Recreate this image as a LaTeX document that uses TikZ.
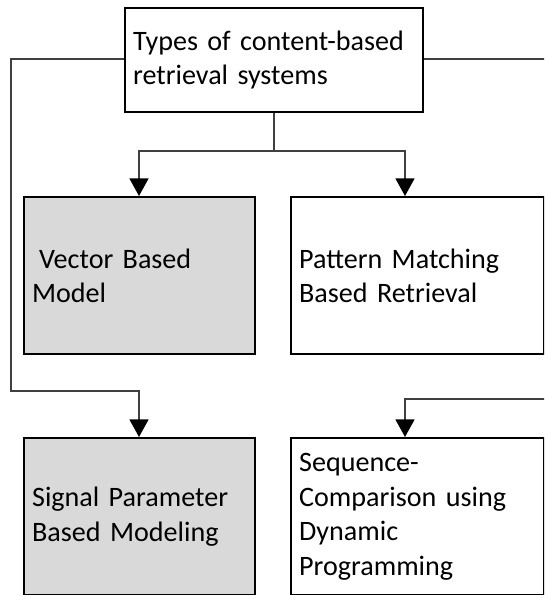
\documentclass[tikz,border=0pt]{standalone}
\usepackage{fontspec}
\setmainfont{Carlito}
\usetikzlibrary{arrows.meta}

\begin{document}
\begin{tikzpicture}[
    line join=miter,
    >={Triangle[width=13.5pt,length=12.5pt,color=black]},
    box/.style={draw=black, line width=1.6pt, anchor=north west,
        inner xsep=0.2cm, align=left,
        font=\fontsize{20}{24.5}\selectfont},
    shaded/.style={box, fill=lightgraybox},
    link/.style={line width=0.9pt, draw=linkgray},
    linkarrow/.style={link, ->}
]

% -------------------------------------------------
% Palette
% -------------------------------------------------
\definecolor{lightgraybox}{HTML}{D9D9D9}
\definecolor{linkgray}{HTML}{404040}

\path[use as bounding box, clip] (0,0) rectangle (13.6,-14.875);

% -------------------------------------------------
% Boxes
% -------------------------------------------------
\def\W{5.775}
\def\H{3.925}

\node[box, minimum width=7.45cm, minimum height=2.6cm, text width=7.05cm]
    (types) at (3.1,-0.175)
    {Types of content-based\\retrieval systems};

\node[shaded, minimum width=\W cm, minimum height=\H cm, text width=\W cm-0.4cm]
    (vector) at (0.575,-4.9)
    {\hspace{0.25em}Vector Based\\Model};

\node[box, minimum width=6.325cm, minimum height=\H cm, text width=5.925cm]
    (pattern) at (7.25,-4.9)
    {Pattern Matching\\Based Retrieval};

\node[shaded, minimum width=\W cm, minimum height=\H cm, text width=\W cm-0.4cm]
    (signal) at (0.575,-10.925)
    {Signal Parameter\\Based Modeling};

\node[box, minimum width=6.325cm, minimum height=\H cm, text width=5.925cm]
    (sequence) at (7.25,-10.925)
    {Sequence-\\Comparison using\\Dynamic\\Programming};

% -------------------------------------------------
% Connectors
% -------------------------------------------------
\coordinate (split) at (types.south |- 0,-3.775);
\coordinate (leftturn) at (0.275,-9.775);
\coordinate (rightturn) at (13.9,-9.975);

\draw[link] (types.south) -- (split);
\draw[linkarrow] (split) -| (3.475,0 |- vector.north);
\draw[linkarrow] (split) -| (10.125,0 |- pattern.north);

% Left branch
\draw[linkarrow] (types.west |- 0,-1.475) -| (leftturn)
    -| (3.475,0 |- signal.north);

% Right branch (runs past the edge)
\draw[linkarrow] (types.east |- 0,-1.475) -| (rightturn)
    -| (10.125,0 |- sequence.north);

\end{tikzpicture}
\end{document}
